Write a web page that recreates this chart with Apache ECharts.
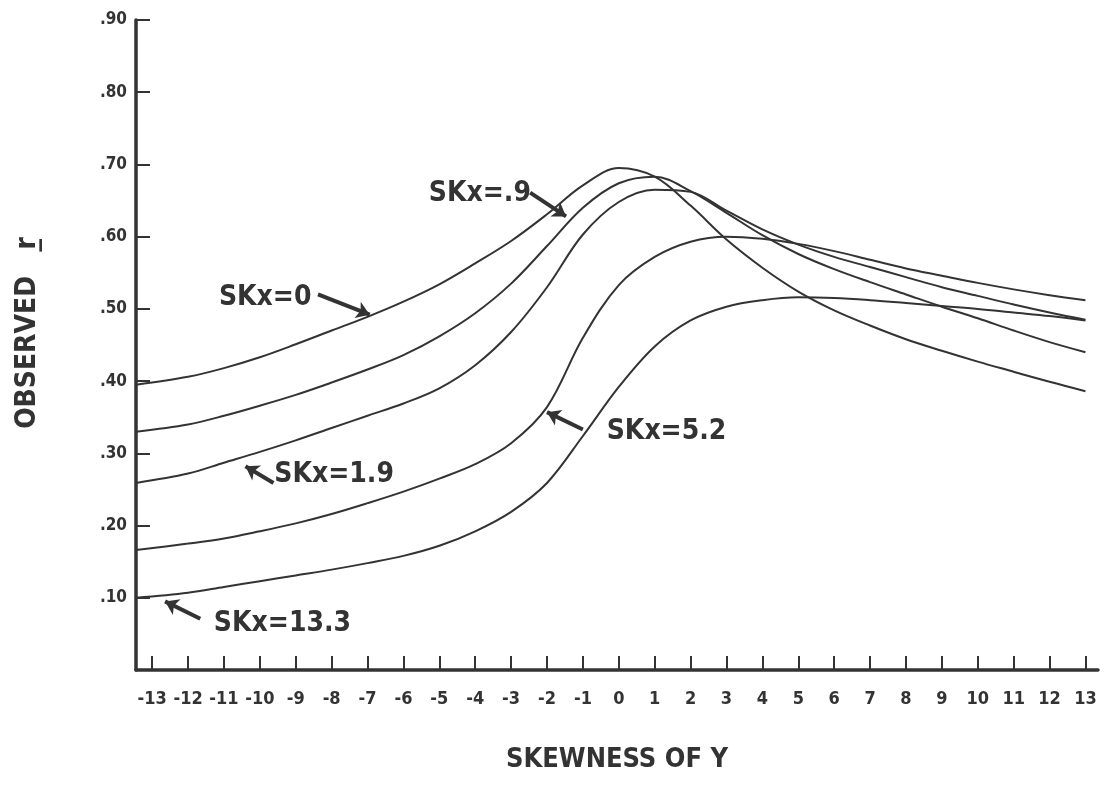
<!DOCTYPE html>
<html>
<head>
<meta charset="utf-8">
<script src="https://cdn.jsdelivr.net/npm/echarts@6/dist/echarts.min.js"></script>
<style>
  html, body { margin: 0; padding: 0; background: #fff; }
  #chart { width: 1105px; height: 790px; }
</style>
</head>
<body>
<div id="chart"></div>
<script>
const FONT = "'DejaVu Sans Condensed', 'Liberation Sans', sans-serif"
const INK = '#333'

// skewness of Y (first point sits on the y axis)
const xValues = [-13.45, -12, -11, -10, -9, -8, -7, -6, -5, -4, -3, -2, -1, 0,
  1, 2, 3, 4, 5, 6, 7, 8, 9, 10, 11, 12, 13]
const xTicks = [-13, -12, -11, -10, -9, -8, -7, -6, -5, -4, -3, -2, -1, 0,
  1, 2, 3, 4, 5, 6, 7, 8, 9, 10, 11, 12, 13]

// observed r for each skewness of X
const skx0 = [0.395, 0.406, 0.418, 0.433, 0.451, 0.470, 0.489, 0.510, 0.534, 0.563, 0.594, 0.631, 0.671, 0.695,
  0.683, 0.643, 0.596, 0.557, 0.524, 0.498, 0.477, 0.458, 0.442, 0.427, 0.413, 0.399, 0.386]
const skx09 = [0.330, 0.340, 0.352, 0.366, 0.381, 0.398, 0.416, 0.436, 0.462, 0.494, 0.535, 0.587, 0.640, 0.674,
  0.683, 0.663, 0.633, 0.602, 0.576, 0.555, 0.537, 0.520, 0.503, 0.487, 0.470, 0.454, 0.440]
const skx19 = [0.259, 0.272, 0.287, 0.302, 0.318, 0.335, 0.352, 0.369, 0.390, 0.422, 0.468, 0.530, 0.603, 0.648,
  0.665, 0.662, 0.636, 0.610, 0.589, 0.572, 0.558, 0.544, 0.530, 0.518, 0.506, 0.495, 0.485]
const skx52 = [0.166, 0.175, 0.182, 0.192, 0.203, 0.216, 0.231, 0.247, 0.265, 0.285, 0.314, 0.364, 0.460, 0.533,
  0.572, 0.593, 0.600, 0.597, 0.590, 0.580, 0.568, 0.556, 0.546, 0.536, 0.527, 0.519, 0.512]
const skx133 = [0.100, 0.107, 0.115, 0.123, 0.131, 0.139, 0.148, 0.158, 0.172, 0.192, 0.219, 0.259, 0.324, 0.392,
  0.448, 0.484, 0.503, 0.512, 0.516, 0.515, 0.512, 0.508, 0.504, 0.500, 0.495, 0.490, 0.484]

// curve labels: text centre, arrow tail, arrow head (data coords)
const labelText = ['SKx=0', 'SKx=.9', 'SKx=1.9', 'SKx=5.2', 'SKx=13.3']
const labelPos = [[-9.85, 0.515], [-3.87, 0.660], [-7.93, 0.270], [1.33, 0.330], [-9.37, 0.064]]
const arrowFrom = [[-8.38, 0.520], [-2.47, 0.661], [-9.62, 0.259], [-1.00, 0.333], [-11.66, 0.071]]
const arrowTo = [[-6.94, 0.492], [-1.47, 0.628], [-10.40, 0.282], [-2.00, 0.357], [-12.64, 0.095]]
const arrowBend = [-0.35, -0.3, 0.1, 0.25, 0.15]

const curves = [skx0, skx09, skx19, skx52, skx133]

const chart = echarts.init(document.getElementById('chart'), null, { renderer: 'canvas' })

const option = {
  animation: false,
  backgroundColor: '#fff',
  grid: { left: 136, right: 7, top: 20, bottom: 120 },
  xAxis: {
    type: 'value',
    min: -13.45,
    max: 13.35,
    name: 'SKEWNESS OF Y',
    nameLocation: 'middle',
    nameGap: 76,
    nameTextStyle: { fontFamily: FONT, fontWeight: 'bold', fontSize: 27, color: INK },
    axisLine: { onZero: false, lineStyle: { color: INK, width: 3.5 } },
    axisTick: { inside: true, length: 14, lineStyle: { color: INK, width: 2 }, customValues: xTicks },
    axisLabel: {
      customValues: xTicks,
      margin: 20,
      fontFamily: FONT, fontWeight: 'bold', fontSize: 18, color: INK,
      formatter: v => String(v),
    },
    splitLine: { show: false },
  },
  yAxis: {
    type: 'value',
    min: 0,
    max: 0.9,
    interval: 0.1,
    name: 'OBSERVED   r\u0332',
    nameLocation: 'middle',
    nameGap: 94,
    nameRotate: 90,
    nameTextStyle: { fontFamily: FONT, fontWeight: 'bold', fontSize: 28, color: INK, padding: [0, 0, 0, 24] },
    axisLine: { onZero: false, lineStyle: { color: INK, width: 3.5 } },
    axisTick: { inside: true, length: 14, lineStyle: { color: INK, width: 2 } },
    axisLabel: {
      margin: 9,
      fontFamily: FONT, fontWeight: 'bold', fontSize: 17, color: INK,
      formatter: v => v === 0 ? '' : '.' + Math.round(v * 100),
    },
    splitLine: { show: false },
  },
  series: [
    ...curves.map(vals => ({
      type: 'line',
      data: xValues.map((x, i) => [x, vals[i]]),
      smooth: 0.35,
      symbol: 'none',
      silent: true,
      lineStyle: { color: INK, width: 2 },
    })),
    {
      type: 'line',
      data: [],
      silent: true,
      markLine: {
        silent: true,
        symbol: ['none', 'arrow'],
        symbolSize: 13,
        label: { show: false },
        data: arrowFrom.map((p, i) => [
          { coord: p, lineStyle: { curveness: arrowBend[i] } },
          { coord: arrowTo[i] },
        ]),
        lineStyle: { color: INK, width: 4, type: 'solid' },
      },
      markPoint: {
        silent: true,
        symbol: 'rect',
        symbolSize: 1,
        itemStyle: { color: 'transparent' },
        label: {
          show: true,
          position: 'inside',
          fontFamily: FONT, fontWeight: 'bold', fontSize: 28, color: INK,
          formatter: p => p.name,
        },
        data: labelText.map((t, i) => ({ name: t, coord: labelPos[i] })),
      },
    },
  ],
}

chart.setOption(option)
</script>
</body>
</html>
